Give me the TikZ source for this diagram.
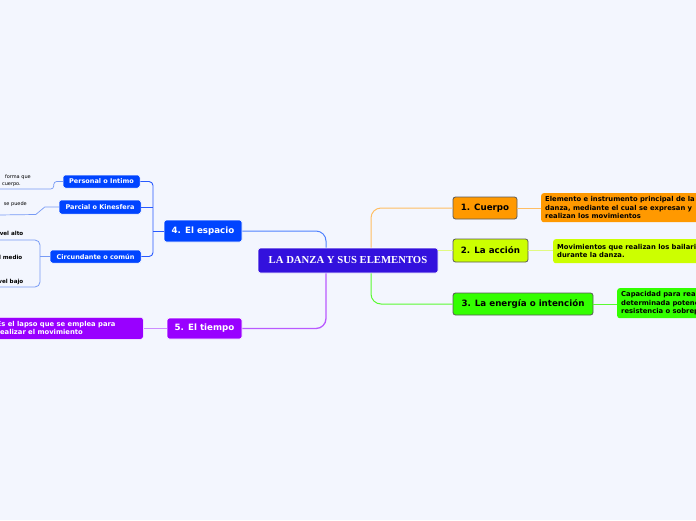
\documentclass[tikz,border=0pt]{standalone}
\usepackage{fontspec}
\setmainfont{DejaVu Sans}
\newfontfamily\serifb{Liberation Serif}
\definecolor{bg}{RGB}{243,246,254}
\definecolor{central}{RGB}{51,17,221}
\definecolor{orangeF}{RGB}{255,153,0}
\definecolor{limeF}{RGB}{204,255,0}
\definecolor{greenF}{RGB}{51,255,0}
\definecolor{blueF}{RGB}{0,68,255}
\definecolor{purpleF}{RGB}{153,0,255}
\definecolor{orangeL}{RGB}{255,190,100}
\definecolor{limeL}{RGB}{225,250,130}
\definecolor{greenL}{RGB}{90,250,50}
\definecolor{blueL}{RGB}{80,130,255}
\definecolor{blueB}{RGB}{40,90,255}
\definecolor{blueLL}{RGB}{120,155,245}
\definecolor{purpleL}{RGB}{185,90,255}
\definecolor{purpleLL}{RGB}{205,140,255}
\tikzset{
  box/.style={rectangle, rounded corners=2.5pt, inner sep=0pt, align=center, font=\bfseries},
  mainR/.style={box, draw=black!65, line width=0.8pt, text=black, font=\fontsize{8.7}{9}\selectfont\bfseries},
  mainL/.style={box, draw=white, line width=0.6pt, text=white, font=\fontsize{8.7}{9}\selectfont\bfseries},
  subL/.style={box, draw=white, line width=0.5pt, fill=blueF, text=white, font=\fontsize{6.5}{7}\selectfont\bfseries},
  desc/.style={rectangle, rounded corners=2.5pt, inner sep=0pt, anchor=north west, align=left, font=\fontsize{6.8}{8.4}\selectfont\bfseries},
  leaf/.style={inner sep=0pt, align=right, font=\fontsize{5}{6.8}\selectfont},
  leafb/.style={inner sep=0pt, font=\fontsize{5.6}{6}\selectfont\bfseries},
  conn/.style={line width=1pt, rounded corners=10pt},
}
\begin{document}
\begin{tikzpicture}[x=1pt,y=-1pt]
\useasboundingbox (0,0) rectangle (696,520);
\clip (0,0) rectangle (696,520);
\fill[bg] (0,0) rectangle (696,520);

% central
\node[box, draw=white, line width=0.6pt, fill=central, text=white, minimum width=180pt, minimum height=25pt, font=\serifb\fontsize{10.7}{12}\selectfont\bfseries] (c) at (348,260.5) {LA DANZA Y SUS ELEMENTOS};

% right branches
\node[mainR, fill=orangeF, minimum width=64pt, minimum height=22pt] (cuerpo) at (485,208) {1. Cuerpo};
\node[mainR, fill=limeF, minimum width=75pt, minimum height=23pt] (accion) at (490.5,250.5) {2. La acción};
\node[mainR, fill=greenF, minimum width=140pt, minimum height=22pt] (energia) at (523,304) {3. La energía o intención};

\node[desc, fill=orangeF, minimum width=170pt, minimum height=29pt] (dc) at (541,193) {\hspace*{4pt}\parbox[c][29pt][c]{180pt}{Elemento e instrumento principal de la\\danza, mediante el cual se expresan y\\realizan los movimientos}};
\node[desc, fill=limeF, minimum width=160pt, minimum height=24pt] (da) at (553,239) {\hspace*{4pt}\parbox[c][24pt][c]{170pt}{Movimientos que realizan los bailarines\\durante la danza.}};
\node[desc, fill=greenF, minimum width=100pt, minimum height=30pt] (de) at (617,288) {\hspace*{4pt}\parbox[c][30pt][c]{150pt}{Capacidad para realizar\\determinada potencia\\resistencia o sobreponerse}};

% left branches
\node[mainL, fill=blueF, minimum width=78pt, minimum height=22pt] (espacio) at (203,231) {4. El espacio};
\node[mainL, fill=purpleF, minimum width=75pt, minimum height=21pt] (tiempo) at (204.5,328.5) {5. El tiempo};
\node[desc, draw=white, line width=0.5pt, fill=purpleF, text=white, minimum width=152pt, minimum height=22pt] (dt) at (-9,317) {\hspace*{4pt}\parbox[c][22pt][c]{145pt}{Es el lapso que se emplea para\\realizar el movimiento}};

\node[subL, minimum width=77pt, minimum height=13pt] (personal) at (101.5,181.5) {Personal o Intimo};
\node[subL, minimum width=82pt, minimum height=14pt] (parcial) at (100,207) {Parcial o Kinesfera};
\node[subL, minimum width=91pt, minimum height=13pt] (circ) at (95.5,256.5) {Circundante o común};

% leaf texts
\node[leaf, anchor=north east] (t1) at (31,174.5) {forma que\\cuerpo.\hspace*{10pt}};
\node[leaf, anchor=east] (t2) at (27,204) {se puede};
\node[leafb, anchor=east] (t3) at (23.5,233.5) {Nivel alto};
\node[leafb, anchor=east] (t4) at (22.5,257.5) {Nivel medio};
\node[leafb, anchor=east] (t5) at (23.5,281.5) {Nivel bajo};

\coordinate (l1) at (-2,189);
\coordinate (l2) at (-2,215);
\coordinate (l3) at (-2,240);
\coordinate (l5) at (-2,287);
\coordinate (eb) at (153,231);
\coordinate (cb) at (40,256.5);

% connectors from central
\draw[conn, orangeL] ([xshift=23pt]c.north) |- (cuerpo.west);
\draw[conn, greenL] ([xshift=23pt]c.south) |- (energia.west);
\draw[line width=1pt, limeL] (c.east |- accion.west) -- (accion.west);
\draw[conn, blueL] ([xshift=-22pt]c.north) |- (espacio.east);
\draw[conn, purpleL, line width=1.3pt] ([xshift=-22pt]c.south) |- (tiempo.east);

% to descriptions
\draw[line width=1pt, orangeL] (cuerpo.east) -- (cuerpo.east -| dc.west);
\draw[line width=1pt, limeL] (accion.east) -- (accion.east -| da.west);
\draw[line width=1pt, greenL] (energia.east) -- (energia.east -| de.west);
\draw[line width=1pt, purpleLL] (tiempo.west) -- (tiempo.west -| dt.east);

% espacio bracket
\draw[line width=0.9pt, blueB] (espacio.west) -- (eb);
\draw[line width=0.9pt, blueB, rounded corners=4pt] (personal.east) -| (eb) |- (circ.east);
\draw[line width=0.9pt, blueB] (parcial.east) -- (parcial.east -| eb);

% leaves
\draw[line width=0.7pt, blueLL, rounded corners=3pt] (personal.west) -- ++(-9,0) |- (l1);
\draw[line width=0.7pt, blueLL] (parcial.west) -- ++(-14,0) -- ++(-9,7.5) -- (l2);
\draw[line width=0.8pt, blueLL] (circ.west) -- (cb);
\draw[line width=0.8pt, blueLL, rounded corners=5pt] (l3) -| (cb) |- (l5);
\end{tikzpicture}
\end{document}
